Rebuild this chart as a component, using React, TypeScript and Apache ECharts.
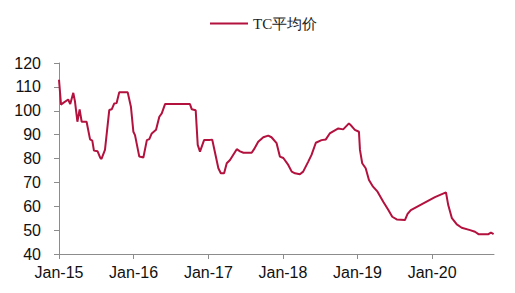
import React, { useEffect, useRef } from "react";
import * as echarts from "echarts";

const seriesName = "TC平均价";

const dates: string[] = [
  "2015-01-01", "2015-01-11", "2015-01-17", "2015-02-15", "2015-02-25", "2015-03-12",
  "2015-03-20", "2015-04-01", "2015-04-12", "2015-04-22", "2015-05-16", "2015-06-02",
  "2015-06-13", "2015-06-21", "2015-07-09", "2015-07-22", "2015-07-28", "2015-08-14",
  "2015-09-04", "2015-09-16", "2015-09-28", "2015-10-10", "2015-10-23", "2015-12-03",
  "2015-12-19", "2015-12-31", "2016-01-08", "2016-01-29", "2016-02-18", "2016-03-06",
  "2016-03-18", "2016-03-30", "2016-04-20", "2016-05-06", "2016-05-18", "2016-06-03",
  "2016-10-03", "2016-10-12", "2016-10-31", "2016-11-10", "2016-11-21", "2016-12-11",
  "2017-01-09", "2017-01-20", "2017-01-29", "2017-02-19", "2017-03-03", "2017-03-19",
  "2017-04-01", "2017-04-17", "2017-05-20", "2017-06-05", "2017-06-22", "2017-08-01",
  "2017-08-12", "2017-09-02", "2017-09-27", "2017-10-21", "2017-11-06", "2017-12-01",
  "2017-12-17", "2018-01-03", "2018-01-27", "2018-02-13", "2018-03-01", "2018-03-25",
  "2018-04-10", "2018-05-05", "2018-05-21", "2018-06-11", "2018-07-09", "2018-07-30",
  "2018-08-18", "2018-09-08", "2018-09-29", "2018-10-23", "2018-11-20", "2018-12-03",
  "2018-12-19", "2019-01-08", "2019-01-13", "2019-01-24", "2019-02-10", "2019-02-26",
  "2019-03-18", "2019-04-09", "2019-05-07", "2019-06-01", "2019-06-20", "2019-07-12",
  "2019-08-21", "2019-09-03", "2019-09-19", "2020-01-15", "2020-03-09", "2020-03-20",
  "2020-04-07", "2020-05-01", "2020-05-25", "2020-07-05", "2020-07-29", "2020-08-15",
  "2020-10-03", "2020-10-15", "2020-10-28",
];

const values: number[] = [
  113, 102.5, 103, 104.7, 102.8, 107.5,
  104, 95.4, 100.6, 95.4, 95.4, 88,
  87.5, 83.3, 83, 80.3, 79.8, 83.6,
  100.3, 100.6, 103, 103.2, 107.8, 107.8,
  101.7, 91.2, 89.8, 80.8, 80.4, 87.7,
  88.1, 90.5, 92, 97.5, 98.9, 102.8,
  102.8, 100.6, 100.2, 85.7, 82.9, 87.7,
  87.8, 87.9, 84.3, 75.9, 73.8, 73.8,
  78, 79.4, 83.9, 83, 82.4, 82.4,
  83.8, 87, 88.9, 89.6, 88.9, 86.4,
  80.8, 80.2, 77.3, 74.5, 73.8, 73.4,
  74.5, 78.7, 81.5, 86.6, 87.7, 88,
  90.5, 91.6, 92.6, 92.2, 94.7, 93.6,
  92, 91.2, 83.6, 78, 75.9, 71,
  68.2, 66.1, 61.9, 58.4, 55.6, 54.5,
  54.2, 56.8, 58.4, 63.8, 65.8, 60.5,
  55, 52.4, 51, 50, 49.3, 48.3,
  48.3, 49, 48.3,
];

const yearTicks: number[] = [2015, 2016, 2017, 2018, 2019, 2020];
const axisStart = "2015-01-01";
const axisEnd = "2020-10-30";

function toTime(s: string): number {
  const [y, m, d] = s.split("-").map(Number);
  return Date.UTC(y, m - 1, d);
}

export default function App() {
  const ref = useRef<HTMLDivElement>(null);
  useEffect(() => {
    if (!ref.current) return;
    const chart = echarts.init(ref.current, undefined, { renderer: "svg" });
    const tickValues = yearTicks.map((y) => Date.UTC(y, 0, 1));
    const lineColor = "#B3113E";
    chart.setOption({
      animation: false,
      legend: {
        top: 11,
        left: 205,
        icon: "rect",
        itemWidth: 38,
        itemHeight: 2,
        itemGap: 6,
        textStyle: {
          fontFamily: "'Liberation Serif', 'Times New Roman', serif",
          fontSize: 15,
          color: "#222",
        },
        data: [seriesName],
      },
      grid: { left: 59, right: 21, top: 63, bottom: 39, containLabel: false },
      xAxis: {
        type: "value",
        min: toTime(axisStart),
        max: toTime(axisEnd),
        axisLine: { show: true, onZero: false, lineStyle: { color: "#8c8c8c", width: 1 } },
        axisTick: {
          show: true,
          length: 5,
          lineStyle: { color: "#8c8c8c" },
          customValues: tickValues,
        },
        axisLabel: {
          customValues: tickValues,
          color: "#111",
          fontSize: 16,
          fontFamily: "'Liberation Sans', Arial, sans-serif",
          margin: 10,
          hideOverlap: false,
          formatter: (v: number) => {
            const d = new Date(v);
            return "Jan-" + String(d.getUTCFullYear() % 100).padStart(2, "0");
          },
        },
        splitLine: { show: false },
      },
      yAxis: {
        type: "value",
        min: 40,
        max: 120,
        interval: 10,
        axisLine: { show: true, lineStyle: { color: "#8c8c8c", width: 1 } },
        axisTick: { show: true, length: 5, lineStyle: { color: "#8c8c8c" } },
        axisLabel: {
          color: "#111",
          fontSize: 16,
          fontFamily: "'Liberation Sans', Arial, sans-serif",
          margin: 18,
        },
        splitLine: { show: false },
      },
      series: [
        {
          name: seriesName,
          type: "line",
          data: dates.map((d, i) => [toTime(d), values[i]]),
          showSymbol: false,
          symbol: "none",
          lineStyle: { color: lineColor, width: 2 },
          itemStyle: { color: lineColor },
        },
      ],
    });
    return () => chart.dispose();
  }, []);
  return <div ref={ref} style={{ width: 515, height: 293, position: "absolute", left: 0, top: 0 }} />;
}
